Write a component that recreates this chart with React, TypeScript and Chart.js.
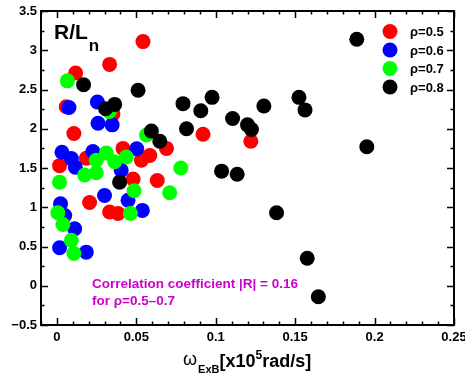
import React, { useEffect, useRef } from "react";
import { Chart, registerables } from "chart.js";

Chart.register(...registerables);

// ---- data ----
const rho05X = [0.0542, 0.0332, 0.0118, 0.0059, 0.0353, 0.0107, 0.0017, 0.0185, 0.0206, 0.0332, 0.0385, 0.0416, 0.0532, 0.0585, 0.048, 0.0632, 0.069, 0.092, 0.1221];
const rho05Y = [3.11, 2.82, 2.71, 2.28, 2.19, 1.94, 1.53, 1.625, 1.06, 0.94, 0.92, 1.75, 1.6, 1.66, 1.36, 1.34, 1.75, 1.93, 1.84];

const rho06X = [0.0076, 0.0255, 0.0259, 0.0348, 0.0032, 0.0091, 0.0116, 0.0227, 0.0405, 0.0503, 0.03, 0.0448, 0.0538, 0.0023, 0.0049, 0.0112, 0.0017, 0.0185];
const rho06Y = [2.27, 2.34, 2.07, 2.05, 1.7, 1.62, 1.51, 1.71, 1.47, 1.745, 1.15, 1.09, 0.96, 1.045, 0.895, 0.726, 0.484, 0.428];

const rho07X = [0.0066, 0.033, 0.0311, 0.0248, 0.0364, 0.0437, 0.0175, 0.0248, 0.0017, 0.0564, 0.078, 0.0486, 0.071, 0.0463, 0.0006, 0.0038, 0.0091, 0.0107];
const rho07Y = [2.61, 2.22, 1.69, 1.6, 1.58, 1.64, 1.41, 1.44, 1.32, 1.92, 1.5, 1.21, 1.185, 0.92, 0.93, 0.78, 0.58, 0.41];

const rho08X = [0.0168, 0.0511, 0.0307, 0.0364, 0.0595, 0.0648, 0.0816, 0.0794, 0.0906, 0.0977, 0.1106, 0.12, 0.1225, 0.1303, 0.1524, 0.1562, 0.1888, 0.1951, 0.1037, 0.1135, 0.1383, 0.1576, 0.1646, 0.0395];
const rho08Y = [2.56, 2.49, 2.255, 2.31, 1.97, 1.84, 2.0, 2.32, 2.23, 2.4, 2.13, 2.05, 1.99, 2.29, 2.4, 2.24, 3.14, 1.77, 1.46, 1.42, 0.93, 0.35, -0.14, 1.32];

const seriesLabels = ["\u03c1=0.5", "\u03c1=0.6", "\u03c1=0.7", "\u03c1=0.8"];
const seriesColors = ["#ff0000", "#0000ff", "#00ff00", "#000000"];

const xTickValues = [0, 0.05, 0.1, 0.15, 0.2, 0.25];
const xTickLabels = ["0", "0.05", "0.1", "0.15", "0.2", "0.25"];
const yTickValues = [-0.5, 0, 0.5, 1, 1.5, 2, 2.5, 3, 3.5];
const yTickLabels = ["\u22120.5", "0", "0.5", "1", "1.5", "2", "2.5", "3", "3.5"];

const corrLine1 = "Correlation coefficient |R| = 0.16";
const corrLine2 = "for \u03c1=0.5\u20130.7";

const FONT = "Arial, 'Liberation Sans', Helvetica, sans-serif";

function zip(xs: number[], ys: number[]) {
  return xs.map((x, i) => ({ x, y: ys[i] }));
}

const framePlugin = {
  id: "frame",
  afterDatasetsDraw(chart: any) {
    const ctx = chart.ctx;
    const { left, right, top, bottom } = chart.chartArea;
    const xs = chart.scales.x;
    const ys = chart.scales.y;
    ctx.save();
    ctx.strokeStyle = "#000";
    ctx.lineWidth = 2;
    ctx.strokeRect(left, top, right - left, bottom - top);
    ctx.lineWidth = 1.5;
    for (let i = -1; i <= 25; i++) {
      const v = i / 100;
      const px = Math.round(xs.getPixelForValue(v)) + 0.5;
      const major = i % 5 === 0;
      const len = major ? 7 : 3.5;
      ctx.beginPath();
      ctx.moveTo(px, bottom);
      ctx.lineTo(px, bottom - len);
      ctx.moveTo(px, top);
      ctx.lineTo(px, top + len);
      ctx.stroke();
    }
    for (let i = -2; i <= 14; i++) {
      const v = i / 4;
      const py = Math.round(ys.getPixelForValue(v)) + 0.5;
      const major = i % 2 === 0;
      const len = major ? 7 : 3.5;
      ctx.beginPath();
      ctx.moveTo(left, py);
      ctx.lineTo(left + len, py);
      ctx.moveTo(right, py);
      ctx.lineTo(right - len, py);
      ctx.stroke();
    }
    ctx.fillStyle = "#000";
    ctx.font = `bold 13px ${FONT}`;
    ctx.textAlign = "right";
    ctx.textBaseline = "middle";
    yTickValues.forEach((v, i) => {
      ctx.fillText(yTickLabels[i], left - 4, ys.getPixelForValue(v));
    });
    ctx.textAlign = "center";
    ctx.textBaseline = "middle";
    xTickValues.forEach((v, i) => {
      ctx.fillText(xTickLabels[i], xs.getPixelForValue(v), bottom + 12);
    });

    // x axis title
    let x = 183;
    const base = 367;
    ctx.textAlign = "left";
    ctx.textBaseline = "alphabetic";
    ctx.font = `18px ${FONT}`;
    ctx.fillText("\u03c9", x, base - 2);
    x += ctx.measureText("\u03c9").width + 1;
    ctx.font = `bold 11px ${FONT}`;
    ctx.fillText("ExB", x, base + 6);
    x += ctx.measureText("ExB").width;
    ctx.font = `bold 18px ${FONT}`;
    ctx.fillText("[x10", x, base);
    x += ctx.measureText("[x10").width;
    ctx.font = `bold 12px ${FONT}`;
    ctx.fillText("5", x, base - 8);
    x += ctx.measureText("5").width;
    ctx.font = `bold 18px ${FONT}`;
    ctx.fillText("rad/s]", x, base);

    // R/L_n label
    ctx.font = `bold 21px ${FONT}`;
    ctx.fillText("R/L", 54, 39);
    const w = ctx.measureText("R/L").width;
    ctx.font = `bold 17px ${FONT}`;
    ctx.fillText("n", 54 + w + 1, 51);

    // correlation text
    ctx.fillStyle = "#cc00cc";
    ctx.font = `bold 13.5px ${FONT}`;
    ctx.textBaseline = "middle";
    ctx.fillText(corrLine1, 92, 284);
    ctx.fillText(corrLine2, 92, 301);

    // legend
    const lx = 390;
    const ly0 = 31.5;
    const dy = 18.5;
    seriesLabels.forEach((lab, i) => {
      const cy = ly0 + i * dy;
      ctx.fillStyle = seriesColors[i];
      ctx.beginPath();
      ctx.arc(lx, cy, 7.5, 0, Math.PI * 2);
      ctx.fill();
      ctx.fillStyle = "#000";
      ctx.font = `bold 13px ${FONT}`;
      ctx.textBaseline = "middle";
      ctx.fillText(lab, 410, cy + 1);
    });
    ctx.restore();
  },
};

export default function App() {
  const ref = useRef<HTMLCanvasElement>(null);
  useEffect(() => {
    document.body.style.margin = "0";
    const canvas = ref.current!;
    const datasets = [
      { data: zip(rho05X, rho05Y), order: 4 },
      { data: zip(rho06X, rho06Y), order: 3 },
      { data: zip(rho07X, rho07Y), order: 2 },
      { data: zip(rho08X, rho08Y), order: 1 },
    ].map((d, i) => ({
      label: seriesLabels[i],
      data: d.data,
      order: d.order,
      backgroundColor: seriesColors[i],
      borderWidth: 0,
      pointRadius: 7.5,
      pointHoverRadius: 7.5,
    }));
    const chart = new Chart(canvas, {
      type: "scatter",
      data: { datasets },
      options: {
        animation: false,
        responsive: false,
        events: [],
        layout: { padding: { left: 41, right: 11, top: 11, bottom: 51 } },
        scales: {
          x: { type: "linear", display: false, min: -0.01, max: 0.25 },
          y: { type: "linear", display: false, min: -0.5, max: 3.5 },
        },
        plugins: { legend: { display: false }, tooltip: { enabled: false } },
      },
      plugins: [framePlugin],
    } as any);
    return () => chart.destroy();
  }, []);
  return (
    <div style={{ width: 465, height: 376, background: "#fff" }}>
      <canvas ref={ref} width={465} height={376} style={{ display: "block" }} />
    </div>
  );
}
